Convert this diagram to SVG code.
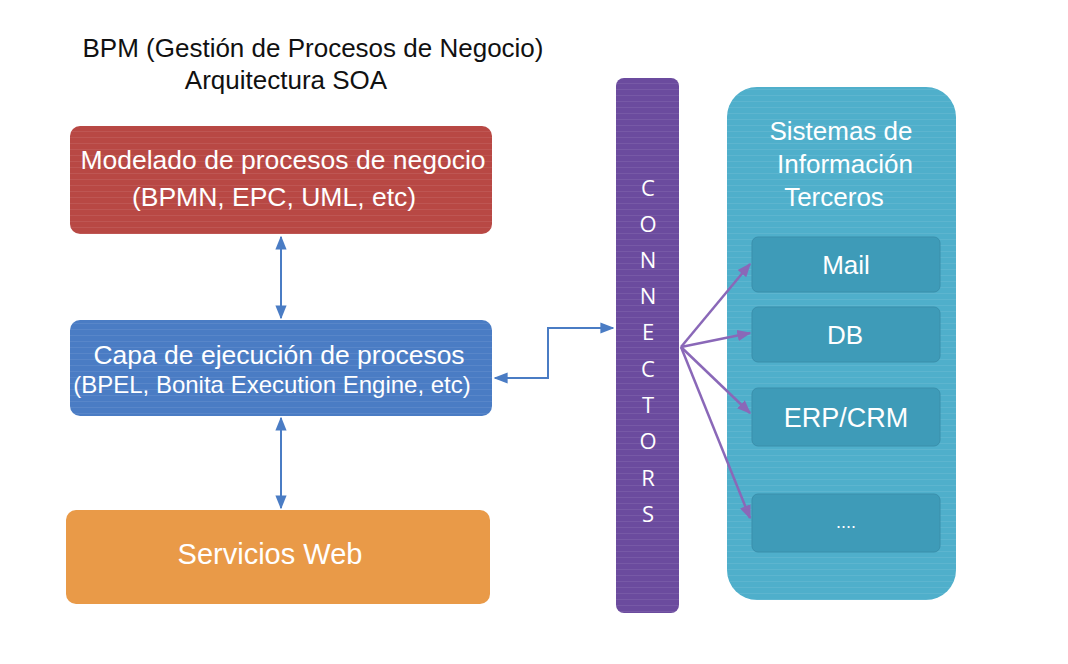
<svg xmlns="http://www.w3.org/2000/svg" width="1068" height="664" viewBox="0 0 1068 664">
<style>
  .t { font-family: "Liberation Sans", Arial, sans-serif; fill: #ffffff; text-anchor: middle; }
  .title { font-family: "Liberation Sans", Arial, sans-serif; fill: #111; font-size: 26px; }
  .blue { stroke: #4a7cc4; stroke-width: 2; fill: none; }
  .pur { stroke: #8a68b8; stroke-width: 2.5; fill: none; }
  .inner { fill: #3e9bb8; stroke: #3a8fab; stroke-width: 1; }
  .cl { font-family: "Open Sans", "Liberation Sans", sans-serif; fill: #fff; font-size: 22px; text-anchor: middle; }
</style>
<defs>
  <marker id="abig" viewBox="0 0 10 10" refX="9" refY="5" markerWidth="14" markerHeight="14" orient="auto-start-reverse" markerUnits="userSpaceOnUse">
    <path d="M0,1 L10,5 L0,9 z" fill="#4a7cc4"/>
  </marker>
  <marker id="ap" viewBox="0 0 10 10" refX="9" refY="5" markerWidth="14" markerHeight="14" orient="auto" markerUnits="userSpaceOnUse">
    <path d="M0,1 L10,5 L0,9 z" fill="#8a68b8"/>
  </marker>
  <pattern id="stripes" width="8" height="6" patternUnits="userSpaceOnUse">
    <rect width="8" height="1" y="5" fill="#ffffff" fill-opacity="0.08"/>
  </pattern>
</defs>
<rect width="1068" height="664" fill="#ffffff"/>

<g id="title">
  <text class="title" x="313" y="57" text-anchor="middle">BPM (Gestión de Procesos de Negocio)</text>
  <text class="title" x="286" y="89" text-anchor="middle">Arquitectura SOA</text>
</g>

<g id="modelado">
  <rect x="70" y="126" width="422" height="108" rx="10" fill="#b84844"/>
  <rect x="70" y="126" width="422" height="108" rx="10" fill="url(#stripes)"/>
  <text class="t" x="283" y="169" font-size="26.5">Modelado de procesos de negocio</text>
  <text class="t" x="274" y="206" font-size="26.5">(BPMN, EPC, UML, etc)</text>
</g>

<g id="capa">
  <rect x="70" y="320" width="422" height="96" rx="10" fill="#4a7cc4"/>
  <rect x="70" y="320" width="422" height="96" rx="10" fill="url(#stripes)"/>
  <text class="t" x="279" y="364" font-size="26.5">Capa de ejecución de procesos</text>
  <text class="t" x="272" y="393" font-size="24">(BPEL, Bonita Execution Engine, etc)</text>
</g>

<g id="servicios">
  <rect x="66" y="510" width="424" height="94" rx="10" fill="#e99a48"/>
  <text class="t" x="270" y="564" font-size="29">Servicios Web</text>
</g>

<g id="connectors-bar">
  <rect x="616" y="78" width="63" height="535" rx="8" fill="#6b4b9e"/>
  <rect x="616" y="78" width="63" height="535" rx="8" fill="url(#stripes)"/>
  <text class="cl" x="648" y="196">C</text>
  <text class="cl" x="648" y="232">O</text>
  <text class="cl" x="648" y="268">N</text>
  <text class="cl" x="648" y="304">N</text>
  <text class="cl" x="648" y="340">E</text>
  <text class="cl" x="648" y="377">C</text>
  <text class="cl" x="648" y="413">T</text>
  <text class="cl" x="648" y="449">O</text>
  <text class="cl" x="648" y="486">R</text>
  <text class="cl" x="648" y="522">S</text>
</g>

<g id="sistemas">
  <rect x="727" y="87" width="229" height="513" rx="30" fill="#4fafcb"/>
  <rect x="727" y="87" width="229" height="513" rx="30" fill="url(#stripes)"/>
  <text class="t" x="841" y="140" font-size="26">Sistemas de</text>
  <text class="t" x="845" y="173" font-size="26">Información</text>
  <text class="t" x="834" y="206" font-size="26">Terceros</text>
</g>

<g id="mail">
  <rect class="inner" x="752" y="237" width="188" height="55" rx="6"/>
  <text class="t" x="846" y="274" font-size="26">Mail</text>
</g>
<g id="db">
  <rect class="inner" x="752" y="307" width="188" height="55" rx="6"/>
  <text class="t" x="845" y="344" font-size="26">DB</text>
</g>
<g id="erp">
  <rect class="inner" x="752" y="388" width="188" height="58" rx="6"/>
  <text class="t" x="846" y="427" font-size="27">ERP/CRM</text>
</g>
<g id="etc">
  <rect class="inner" x="752" y="494" width="188" height="58" rx="6"/>
  <text class="t" x="846" y="528" font-size="18">....</text>
</g>

<g id="connectors">
  <line class="blue" x1="281" y1="237" x2="281" y2="318" marker-start="url(#abig)" marker-end="url(#abig)"/>
  <line class="blue" x1="281" y1="418" x2="281" y2="508" marker-start="url(#abig)" marker-end="url(#abig)"/>
  <polyline class="blue" points="495,378 548,378 548,328 613,328" marker-start="url(#abig)" marker-end="url(#abig)"/>
  <line class="pur" x1="681" y1="347" x2="750" y2="264" marker-end="url(#ap)"/>
  <line class="pur" x1="681" y1="347" x2="750" y2="333" marker-end="url(#ap)"/>
  <line class="pur" x1="681" y1="347" x2="750" y2="413" marker-end="url(#ap)"/>
  <line class="pur" x1="681" y1="347" x2="750" y2="518" marker-end="url(#ap)"/>
</g>
</svg>
